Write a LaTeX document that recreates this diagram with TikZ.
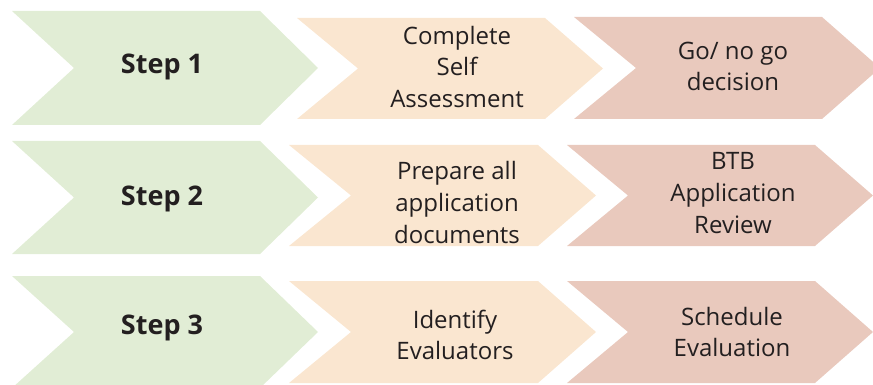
\documentclass[tikz,border=0pt]{standalone}
\usepackage{fontspec}
\setmainfont{Open Sans}
\definecolor{cgreen}{HTML}{E1EDD5}
\definecolor{corange}{HTML}{FAE6D0}
\definecolor{cpink}{HTML}{E9C9BD}
\definecolor{ctext}{HTML}{231F20}
% #1 left x, #2 top y, #3 bottom y, #4 notch x, #5 corner x, #6 tip x, #7 colour
\newcommand\chevshape[7]{%
  \fill[#7] (#1,#2) -- (#5,#2) -- (#6,{(#2+#3)/2}) -- (#5,#3) -- (#1,#3) -- (#4,{(#2+#3)/2}) -- cycle;}
\begin{document}
\begin{tikzpicture}[x=1pt,y=-1pt,
  steplabel/.style={font=\fontsize{27}{32}\selectfont\bfseries, text=ctext, inner sep=0pt, anchor=base},
  boxlabel/.style={font=\fontsize{24}{31.8}\selectfont, text=ctext, inner sep=0pt, align=center, anchor=center,
     execute at begin node=\strut, execute at end node=\strut}]
\useasboundingbox (0,0) rectangle (873,385);
\clip (0,0) rectangle (873,385);
% row 1
\chevshape{12}{11}{125}{74}{260}{318}{cgreen}
\chevshape{297}{18}{119}{358}{545}{603}{corange}
\chevshape{574}{17}{119}{636}{822}{880}{cpink}
% row 2
\chevshape{12}{141}{254}{74}{260}{318}{cgreen}
\chevshape{289}{145}{246}{351}{538}{596}{corange}
\chevshape{567}{145}{246}{628}{815}{873}{cpink}
% row 3
\chevshape{12}{276}{388}{74}{260}{318}{cgreen}
\chevshape{289}{281}{383}{351}{538}{596}{corange}
\chevshape{567}{281}{383}{628}{815}{873}{cpink}
% labels
\node[steplabel] (s1) at (162,74) {Step 1};
\node[steplabel] (s2) at (162,205) {Step 2};
\node[steplabel] (s3) at (162,334) {Step 3};
\node[boxlabel] (a1) at (457,71.6) {Complete\\Self\\Assessment};
\node[boxlabel] (b1) at (733,71.1) {Go/ no go\\decision};
\node[boxlabel] (a2) at (457,207.1) {Prepare all\\application\\documents};
\node[boxlabel] (b2) at (733,197.6) {BTB\\Application\\Review};
\node[boxlabel] (a3) at (455,339.6) {Identify\\Evaluators};
\node[boxlabel] (b3) at (732,336.6) {Schedule\\Evaluation};
\end{tikzpicture}
\end{document}
